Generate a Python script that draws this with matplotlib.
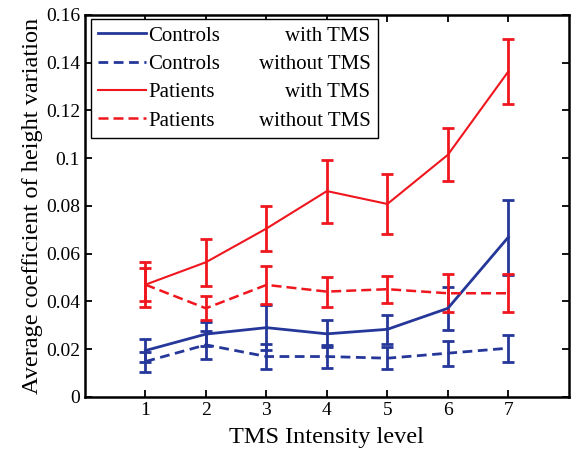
import numpy as np
import matplotlib.pyplot as plt
from matplotlib.patches import Rectangle

levels = [1, 2, 3, 4, 5, 6, 7]

ctrl_tms = [0.0194, 0.0263, 0.0290, 0.0264, 0.0283, 0.0371, 0.0669]
ctrl_tms_err = [0.0047, 0.0050, 0.0095, 0.0057, 0.0060, 0.0090, 0.0157]
ctrl_no = [0.0148, 0.0218, 0.0169, 0.0169, 0.0162, 0.0183, 0.0204]
ctrl_no_err = [0.0042, 0.0060, 0.0052, 0.0048, 0.0046, 0.0052, 0.0056]
pat_tms = [0.0470, 0.0564, 0.0705, 0.0862, 0.0808, 0.1014, 0.1363]
pat_tms_err = [0.0095, 0.0098, 0.0095, 0.0132, 0.0124, 0.0111, 0.0135]
pat_no = [0.0470, 0.0371, 0.0469, 0.0441, 0.0451, 0.0434, 0.0434]
pat_no_err = [0.0070, 0.0050, 0.0078, 0.0063, 0.0056, 0.0080, 0.0080]

groups = ["Controls", "Controls", "Patients", "Patients"]
conds = ["with TMS", "without TMS", "with TMS", "without TMS"]

blue = "#26379a"
red = "#f0161e"

plt.rcParams['font.family'] = ['Liberation Serif', 'DejaVu Serif']

fig = plt.figure(figsize=(5.74, 4.51), dpi=100)
ax = fig.add_axes([0.148, 0.12, 0.843, 0.847])

series = [
    (ctrl_tms, ctrl_tms_err, blue, "-", 2.0, (3.5, 2.0)),
    (ctrl_no, ctrl_no_err, blue, "--", 2.0, (3.5, 2.0)),
    (pat_tms, pat_tms_err, red, "-", 1.5, None),
    (pat_no, pat_no_err, red, "--", 1.8, (4.0, 2.0)),
]
handles = []
for vals, errs, col, ls, lw, dash in series:
    eb = ax.errorbar(levels, vals, yerr=errs, color=col, ls=ls, lw=lw,
                     elinewidth=2.0, capsize=4, capthick=2.0)
    if ls == "--":
        eb.lines[0].set_dashes(dash)
    handles.append(eb.lines[0])

ax.set_xlim(0, 8)
ax.set_ylim(0, 0.16)
ax.set_xticks(levels)
ax.set_yticks(np.arange(0, 0.161, 0.02))
ax.set_yticklabels(["0", "0.02", "0.04", "0.06", "0.08", "0.1", "0.12", "0.14", "0.16"])
ax.tick_params(direction="in", top=True, right=True, labelsize=14, length=5, width=1.3)
for s in ax.spines.values():
    s.set_linewidth(1.8)

ax.set_xlabel("TMS Intensity level", fontsize=17.5, labelpad=6)
ax.set_ylabel("Average coefficient of height variation", fontsize=17.5, labelpad=2)

# legend with group names; frame drawn separately so the right column fits
leg = ax.legend(handles, groups, loc="upper left", fontsize=15, frameon=False,
                bbox_to_anchor=(0.012, 0.99),
                handlelength=2.3, handletextpad=0.1, labelspacing=0.42,
                borderpad=0.35, borderaxespad=0)

fig.canvas.draw()
renderer = fig.canvas.get_renderer()
inv = ax.transAxes.inverted()
leg_bb = leg.get_window_extent(renderer)
(x0, y0) = inv.transform((leg_bb.x0, leg_bb.y0))
(x1, y1) = inv.transform((leg_bb.x1, leg_bb.y1))
right = 0.605
ax.add_patch(Rectangle((x0, y0), right - x0, y1 - y0, transform=ax.transAxes,
                       fill=True, facecolor="white", edgecolor="black", lw=1.0,
                       zorder=4))
leg.set_zorder(5)
for txt, cond in zip(leg.get_texts(), conds):
    bb = txt.get_window_extent(renderer)
    _, yc = inv.transform((0, (bb.y0 + bb.y1) / 2))
    ax.text(right - 0.015, yc, cond, transform=ax.transAxes, ha="right",
            va="center", fontsize=15, zorder=6)

fig.savefig("out.png", dpi=100)
